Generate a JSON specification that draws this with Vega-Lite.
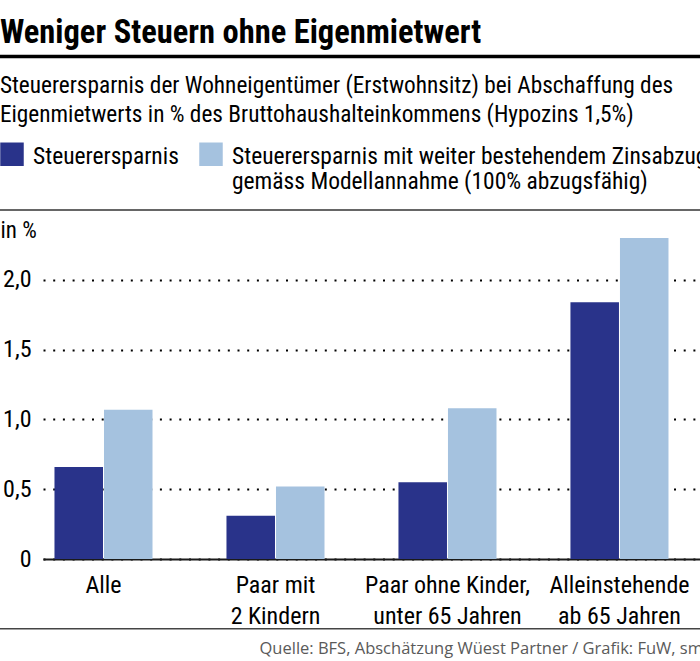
{
  "$schema": "https://vega.github.io/schema/vega-lite/v6.json",
  "width": 657,
  "height": 335,
  "autosize": {"type": "none"},
  "padding": {"left": 43, "top": 224, "right": 0, "bottom": 102},
  "background": "white",
  "config": {
    "view": {"stroke": null},
    "font": "Roboto Condensed, DejaVu Sans Condensed, Arial Narrow, Roboto"
  },
  "title": {
    "text": "Weniger Steuern ohne Eigenmietwert",
    "subtitle": [
      "Steuerersparnis der Wohneigentümer (Erstwohnsitz) bei Abschaffung des",
      "Eigenmietwerts in % des Bruttohaushalteinkommens (Hypozins 1,5%)"
    ],
    "anchor": "start",
    "frame": "bounds",
    "dx": 2,
    "font": "Roboto Condensed, DejaVu Sans Condensed, Arial Narrow, Roboto",
    "fontSize": 32.5,
    "fontWeight": "bold",
    "color": "#000000",
    "subtitleFont": "Roboto Condensed, DejaVu Sans Condensed, Arial Narrow, Roboto",
    "subtitleFontSize": 23.3,
    "subtitleColor": "#000000",
    "subtitleLineHeight": 29.5,
    "subtitlePadding": 25,
    "offset": -72
  },
  "resolve": {"scale": {"x": "independent"}, "axis": {"x": "independent"}},
  "layer": [
    {
      "data": {
        "values": [
          {"Gruppe": "Alle", "Serie": "Steuerersparnis", "Wert": 0.66},
          {"Gruppe": "Alle", "Serie": "Steuerersparnis mit weiter bestehendem Zinsabzug gemäss Modellannahme (100% abzugsfähig)", "Wert": 1.07},
          {"Gruppe": "Paar mit 2 Kindern", "Serie": "Steuerersparnis", "Wert": 0.31},
          {"Gruppe": "Paar mit 2 Kindern", "Serie": "Steuerersparnis mit weiter bestehendem Zinsabzug gemäss Modellannahme (100% abzugsfähig)", "Wert": 0.52},
          {"Gruppe": "Paar ohne Kinder, unter 65 Jahren", "Serie": "Steuerersparnis", "Wert": 0.55},
          {"Gruppe": "Paar ohne Kinder, unter 65 Jahren", "Serie": "Steuerersparnis mit weiter bestehendem Zinsabzug gemäss Modellannahme (100% abzugsfähig)", "Wert": 1.08},
          {"Gruppe": "Alleinstehende ab 65 Jahren", "Serie": "Steuerersparnis", "Wert": 1.84},
          {"Gruppe": "Alleinstehende ab 65 Jahren", "Serie": "Steuerersparnis mit weiter bestehendem Zinsabzug gemäss Modellannahme (100% abzugsfähig)", "Wert": 2.30}
        ]
      },
      "mark": {"type": "bar"},
      "encoding": {
        "x": {
          "field": "Gruppe",
          "type": "nominal",
          "sort": null,
          "scale": {"paddingInner": 0.43, "paddingOuter": 0.125, "align": 0.267},
          "axis": {
            "labelExpr": "datum.value == 'Alle' ? 'Alle' : datum.value == 'Paar mit 2 Kindern' ? ['Paar mit', '2 Kindern'] : datum.value == 'Paar ohne Kinder, unter 65 Jahren' ? ['Paar ohne Kinder,', 'unter 65 Jahren'] : ['Alleinstehende', 'ab 65 Jahren']",
            "labelAngle": 0,
            "labelFontSize": 24,
            "labelColor": "#000000",
            "labelLineHeight": 31,
            "labelPadding": 14,
            "labelLimit": 400,
            "ticks": false,
            "tickSize": 0,
            "domain": true,
            "domainColor": "#1a1a1a",
            "domainWidth": 2,
            "grid": false,
            "title": "Quelle: BFS, Abschätzung Wüest Partner / Grafik: FuW, sm",
            "titleFont": "Open Sans",
            "titleFontSize": 16.5,
            "titleFontWeight": "normal",
            "titleColor": "#5a5a5a",
            "titleAlign": "left",
            "titleBaseline": "alphabetic",
            "titleX": 216,
            "titleY": 94
          }
        },
        "xOffset": {
          "field": "Serie",
          "type": "nominal",
          "sort": ["Steuerersparnis", "Steuerersparnis mit weiter bestehendem Zinsabzug gemäss Modellannahme (100% abzugsfähig)"],
          "scale": {"paddingInner": 0.02}
        },
        "y": {
          "field": "Wert",
          "type": "quantitative",
          "scale": {"domain": [0, 2.4], "nice": false},
          "axis": {
            "values": [0, 0.5, 1, 1.5, 2],
            "labelExpr": "datum.value == 0 ? '0' : replace(format(datum.value, '.1f'), '.', ',')",
            "labelFontSize": 24,
            "labelColor": "#000000",
            "labelPadding": 12,
            "ticks": false,
            "tickSize": 0,
            "domain": false,
            "grid": true,
            "gridColor": "#000000",
            "gridWidth": 2,
            "gridDash": [2, 7.7],
            "title": "in %",
            "titleAngle": 0,
            "titleAlign": "left",
            "titleBaseline": "alphabetic",
            "titleFontSize": 23,
            "titleFontWeight": "normal",
            "titleColor": "#000000",
            "titleX": -43,
            "titleY": 13
          }
        },
        "color": {
          "field": "Serie",
          "type": "nominal",
          "scale": {
            "domain": ["Steuerersparnis", "Steuerersparnis mit weiter bestehendem Zinsabzug gemäss Modellannahme (100% abzugsfähig)"],
            "range": ["#29338a", "#a5c2df"]
          },
          "legend": {
            "orient": "none",
            "legendX": -43,
            "legendY": -82,
            "direction": "horizontal",
            "title": null,
            "padding": 0,
            "symbolType": "square",
            "symbolSize": 552,
            "symbolStrokeWidth": 0,
            "symbolOpacity": 1,
            "labelFontSize": 23.5,
            "labelColor": "#000000",
            "labelLimit": 1000,
            "labelOffset": 9,
            "columnPadding": 20,
            "labelBaseline": "alphabetic",
            "labelLineHeight": 27,
            "labelExpr": "datum.value == 'Steuerersparnis' ? ['Steuerersparnis', ''] : ['Steuerersparnis mit weiter bestehendem Zinsabzug', 'gemäss Modellannahme (100% abzugsfähig)']",
            "encode": {"labels": {"update": {"dy": {"value": 9.5}}}}
          }
        }
      }
    },
    {
      "data": {"values": [{"Linie": "Titel"}]},
      "mark": {"type": "rule", "color": "#000000", "strokeWidth": 3.5},
      "encoding": {
        "y": {"datum": 3.6},
        "x": {"datum": -0.066, "type": "quantitative", "scale": {"domain": [0, 1]}, "axis": null},
        "x2": {"datum": 1}
      }
    },
    {
      "data": {"values": [{"Linie": "Legende"}]},
      "mark": {"type": "rule", "color": "#333333", "strokeWidth": 1.5},
      "encoding": {
        "y": {"datum": 2.5},
        "x": {"datum": -0.066, "type": "quantitative", "scale": {"domain": [0, 1]}, "axis": null},
        "x2": {"datum": 1}
      }
    },
    {
      "data": {"values": [{"Linie": "Fuss"}]},
      "mark": {"type": "rule", "color": "#444444", "strokeWidth": 1.5},
      "encoding": {
        "y": {"datum": -0.5},
        "x": {"datum": -0.066, "type": "quantitative", "scale": {"domain": [0, 1]}, "axis": null},
        "x2": {"datum": 1}
      }
    }
  ]
}
